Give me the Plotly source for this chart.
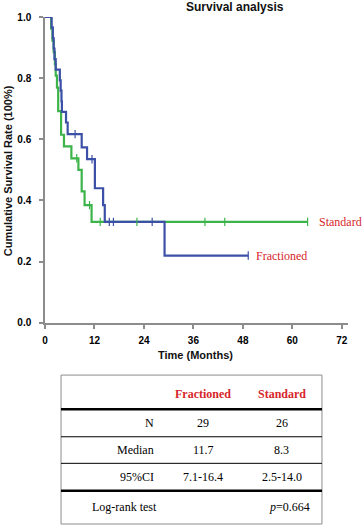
import plotly.graph_objects as go

# ---------------- data ----------------
frac_time = [0, 1.6, 1.9, 2.1, 2.3, 2.6, 3.6, 3.8, 4.0, 4.1, 5.1, 5.5, 8.9, 10.2, 12.1, 14.1, 14.5, 29.0, 49.3]
frac_surv = [1.0, 0.966, 0.931, 0.897, 0.862, 0.828, 0.793, 0.759, 0.724, 0.690, 0.655, 0.617, 0.574, 0.535, 0.440, 0.385, 0.330, 0.220, 0.220]
frac_cens_time = [7.3, 11.4, 15.6, 16.6, 26.0, 49.3]
frac_cens_surv = [0.617, 0.535, 0.330, 0.330, 0.330, 0.220]

std_time = [0, 1.5, 1.8, 2.1, 2.4, 2.6, 2.9, 3.2, 3.9, 4.6, 6.4, 8.1, 8.9, 9.6, 11.3, 63.7]
std_surv = [1.0, 0.962, 0.923, 0.885, 0.846, 0.808, 0.769, 0.692, 0.615, 0.577, 0.538, 0.500, 0.430, 0.385, 0.330, 0.330]
std_cens_time = [7.7, 10.8, 13.4, 22.3, 38.8, 43.6, 63.7]
std_cens_surv = [0.538, 0.385, 0.330, 0.330, 0.330, 0.330, 0.330]

x_ticks = [0, 12, 24, 36, 48, 60, 72]
y_ticks = [0.0, 0.2, 0.4, 0.6, 0.8, 1.0]

table_groups = ["Fractioned", "Standard"]
table_rows = ["N", "Median", "95%CI"]
table_frac = ["29", "11.7", "7.1-16.4"]
table_std = ["26", "8.3", "2.5-14.0"]
logrank_label = "Log-rank test"
logrank_p = "0.664"

# ---------------- layout helpers (pixel -> paper) ----------------
W, H = 362, 526
ML, MR, MT, MB = 45, 14.3, 16.7, 2
PW = W - ML - MR
PH = H - MT - MB


def xp(px):
    return (px - ML) / PW


def yp(py):
    return (H - MB - py) / PH


BLUE = "#3B50A6"
GREEN = "#3CB44A"
RED = "#D7262B"
AX = "#8C8C8C"
SANS = "Liberation Sans, Arial, sans-serif"
SERIF = "Liberation Serif, Times New Roman, serif"

fig = go.Figure()

fig.add_trace(go.Scatter(x=std_time, y=std_surv, mode="lines", line=dict(shape="hv", color=GREEN, width=2.2),
                         showlegend=False, hoverinfo="skip"))
fig.add_trace(go.Scatter(x=frac_time, y=frac_surv, mode="lines", line=dict(shape="hv", color=BLUE, width=2.2),
                         showlegend=False, hoverinfo="skip"))
fig.add_trace(go.Scatter(x=std_cens_time, y=std_cens_surv, mode="markers",
                         marker=dict(symbol="line-ns", size=6, line=dict(color=GREEN, width=1.2)),
                         showlegend=False, hoverinfo="skip"))
fig.add_trace(go.Scatter(x=frac_cens_time, y=frac_cens_surv, mode="markers",
                         marker=dict(symbol="line-ns", size=6, line=dict(color=BLUE, width=1.2)),
                         showlegend=False, hoverinfo="skip"))

y_dom0 = yp(322.7)
fig.update_layout(
    template="none",
    width=W, height=H,
    margin=dict(l=ML, r=MR, t=MT, b=MB, pad=0, autoexpand=False),
    paper_bgcolor="white", plot_bgcolor="white",
    xaxis=dict(range=[0, 73.5], domain=[0, 1], tickvals=x_ticks, ticktext=[str(v) for v in x_ticks],
               showgrid=False, zeroline=False, showline=True, linecolor=AX, linewidth=1.5,
               ticks="outside", ticklen=4, tickcolor=AX, tickwidth=1.5, automargin=False,
               tickfont=dict(family=SANS, size=10, color="black", weight="bold"),
               ticklabelstandoff=3, anchor="y"),
    yaxis=dict(range=[0, 1], domain=[y_dom0, 1], tickvals=y_ticks, ticktext=["%.1f" % v for v in y_ticks],
               showgrid=False, zeroline=False, showline=True, linecolor=AX, linewidth=1.5,
               ticks="outside", ticklen=4, tickcolor=AX, tickwidth=1.5, automargin=False,
               tickfont=dict(family=SANS, size=10, color="black", weight="bold"),
               ticklabelstandoff=6, anchor="x"),
)

ann = []
ann.append(dict(text="<b>Survival analysis</b>", x=xp(184), y=yp(7), xref="paper", yref="paper",
                xanchor="left", yanchor="middle", showarrow=False, font=dict(family=SANS, size=12, color="#111")))
ann.append(dict(text="<b>Time (Months)</b>", x=xp(195), y=yp(355), xref="paper", yref="paper",
                xanchor="center", yanchor="middle", showarrow=False, font=dict(family=SANS, size=11, color="#111")))
ann.append(dict(text="<b>Cumulative Survival Rate (100%)</b>", x=xp(8), y=yp(170), xref="paper", yref="paper",
                xanchor="center", yanchor="middle", textangle=-90, showarrow=False,
                font=dict(family=SANS, size=11, color="#111")))
ann.append(dict(text="Standard", x=std_time[-1], y=std_surv[-1], xref="x", yref="y", xanchor="left",
                yanchor="middle", xshift=9, showarrow=False, font=dict(family=SERIF, size=12, color=RED)))
ann.append(dict(text="Fractioned", x=frac_time[-1], y=frac_surv[-1], xref="x", yref="y", xanchor="left",
                yanchor="middle", xshift=6, showarrow=False, font=dict(family=SERIF, size=12, color=RED)))

# ---------------- table ----------------
TL, TR, TT, TB = 61, 321.7, 375, 524
shapes = [dict(type="rect", xref="paper", yref="paper", x0=xp(TL), x1=xp(TR), y0=yp(TB), y1=yp(TT),
               line=dict(color=AX, width=1))]
hline_y = [409.3, 436.7, 463.3, 490.7]
hline_w = [2.5, 1, 1, 2.5]
for py, lw in zip(hline_y, hline_w):
    shapes.append(dict(type="line", xref="paper", yref="paper", x0=xp(TL), x1=xp(TR), y0=yp(py), y1=yp(py),
                       line=dict(color="black", width=lw)))

col_x = [203.3, 281.7]
label_x = 156
header_y = 394.3
row_y = [423.3, 450, 476.7]
for cx, g in zip(col_x, table_groups):
    ann.append(dict(text="<b>%s</b>" % g, x=xp(cx), y=yp(header_y), xref="paper", yref="paper",
                    xanchor="center", yanchor="middle", showarrow=False,
                    font=dict(family=SERIF, size=12, color=RED)))
for ry, lab, v1, v2 in zip(row_y, table_rows, table_frac, table_std):
    ann.append(dict(text=lab, x=xp(label_x), y=yp(ry), xref="paper", yref="paper", xanchor="right",
                    yanchor="middle", showarrow=False, font=dict(family=SERIF, size=12, color="black")))
    for cx, v in zip(col_x, [v1, v2]):
        ann.append(dict(text=v, x=xp(cx), y=yp(ry), xref="paper", yref="paper", xanchor="center",
                        yanchor="middle", showarrow=False, font=dict(family=SERIF, size=12, color="black")))
ann.append(dict(text=logrank_label, x=xp(90), y=yp(507.3), xref="paper", yref="paper", xanchor="left",
                yanchor="middle", showarrow=False, font=dict(family=SERIF, size=12, color="black")))
ann.append(dict(text="<i>p</i>=" + logrank_p, x=xp(312), y=yp(507.3), xref="paper", yref="paper",
                xanchor="right", yanchor="middle", showarrow=False, font=dict(family=SERIF, size=12, color="black")))

fig.update_layout(annotations=ann, shapes=shapes)
fig.write_html("out.html", config={"displayModeBar": False},
               post_script="document.body.style.margin='0px';document.body.style.padding='0px';"
                           "document.body.style.overflow='hidden';")
